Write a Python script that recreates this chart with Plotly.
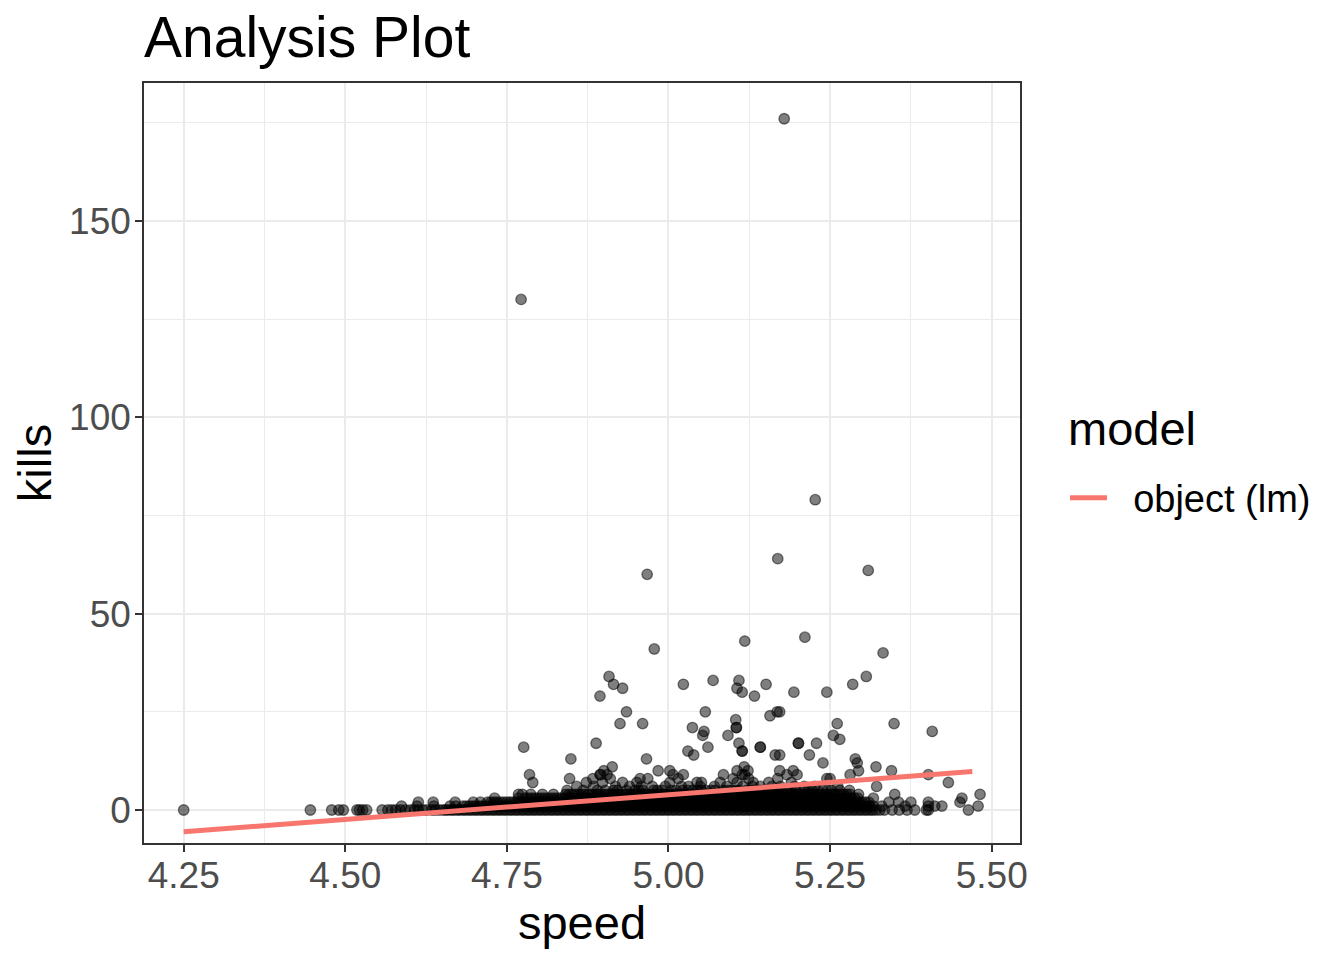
import plotly.graph_objects as go

# ---- data (speed values grouped by kills level) ----
speed_k0 = [4.250, 4.446, 4.479, 4.490, 4.497, 4.518, 4.522, 4.527, 4.533, 4.557, 4.566, 4.572,
            4.578, 4.585, 4.593, 4.601, 4.607, 4.613, 4.620, 4.626, 4.634, 4.639, 4.645, 4.651,
            4.655, 4.659, 4.664, 4.668, 4.673, 4.677, 4.682, 4.686, 4.691, 4.695, 4.700, 4.704,
            4.709, 4.713, 4.718, 4.722, 4.727, 4.731, 4.736, 4.740, 4.745, 4.749, 4.754, 4.758,
            4.763, 4.767, 4.772, 4.776, 4.781, 4.785, 4.790, 4.794, 4.799, 4.803, 4.808, 4.812,
            4.817, 4.821, 4.826, 4.830, 4.835, 4.839, 4.844, 4.848, 4.853, 4.857, 4.862, 4.866,
            4.871, 4.875, 4.880, 4.884, 4.889, 4.893, 4.898, 4.902, 4.907, 4.911, 4.916, 4.920,
            4.925, 4.929, 4.934, 4.938, 4.943, 4.947, 4.952, 4.956, 4.961, 4.965, 4.970, 4.974,
            4.979, 4.983, 4.988, 4.992, 4.997, 5.001, 5.006, 5.010, 5.015, 5.019, 5.024, 5.028,
            5.033, 5.037, 5.042, 5.046, 5.051, 5.055, 5.060, 5.064, 5.069, 5.073, 5.078, 5.082,
            5.087, 5.091, 5.096, 5.100, 5.105, 5.109, 5.114, 5.118, 5.123, 5.127, 5.132, 5.136,
            5.141, 5.145, 5.150, 5.154, 5.159, 5.163, 5.168, 5.172, 5.177, 5.181, 5.186, 5.190,
            5.195, 5.199, 5.204, 5.208, 5.213, 5.217, 5.222, 5.226, 5.231, 5.235, 5.240, 5.244,
            5.249, 5.253, 5.258, 5.262, 5.267, 5.271, 5.276, 5.280, 5.285, 5.289, 5.294, 5.298,
            5.303, 5.307, 5.312, 5.316, 5.321, 5.327, 5.334, 5.346, 5.357, 5.369, 5.381, 5.399,
            5.402, 5.464]
speed_k1 = [4.587, 4.611, 4.637, 4.662, 4.671,
            4.682, 4.687, 4.692, 4.697, 4.702, 4.707, 4.712, 4.717, 4.722, 4.727, 4.732, 4.737,
            4.742, 4.747, 4.752, 4.757, 4.762, 4.767, 4.772, 4.777, 4.782, 4.787, 4.792, 4.797,
            4.802, 4.807, 4.812, 4.817, 4.822, 4.827, 4.832, 4.837, 4.842, 4.847, 4.852, 4.857,
            4.862, 4.867, 4.872, 4.877, 4.882, 4.887, 4.892, 4.897, 4.902, 4.907, 4.912, 4.917,
            4.922, 4.927, 4.932, 4.937, 4.942, 4.947, 4.952, 4.957, 4.962, 4.967, 4.972, 4.977,
            4.982, 4.987, 4.992, 4.997, 5.002, 5.007, 5.012, 5.017, 5.022, 5.027, 5.032, 5.037,
            5.042, 5.047, 5.052, 5.057, 5.062, 5.067, 5.072, 5.077, 5.082, 5.087, 5.092, 5.097,
            5.102, 5.107, 5.112, 5.117, 5.122, 5.127, 5.132, 5.137, 5.142, 5.147, 5.152, 5.157,
            5.162, 5.167, 5.172, 5.177, 5.182, 5.187, 5.192, 5.197, 5.202, 5.207, 5.212, 5.217,
            5.222, 5.227, 5.232, 5.237, 5.242, 5.247, 5.252, 5.257, 5.262, 5.267, 5.272, 5.277,
            5.282, 5.287, 5.292, 5.297, 5.302, 5.307, 5.312, 5.317,
            5.330, 5.366, 5.402, 5.412, 5.423, 5.479]
speed_k2 = [4.613, 4.636, 4.670, 4.698, 4.709,
            4.720, 4.725, 4.730, 4.735, 4.740, 4.745, 4.750, 4.755, 4.760, 4.765, 4.770, 4.775,
            4.780, 4.785, 4.790, 4.795, 4.800, 4.805, 4.810, 4.815, 4.820, 4.825, 4.830, 4.835,
            4.840, 4.845, 4.850, 4.855, 4.860, 4.865, 4.870, 4.875, 4.880, 4.885, 4.890, 4.895,
            4.900, 4.905, 4.910, 4.915, 4.920, 4.925, 4.930, 4.935, 4.940, 4.945, 4.950, 4.955,
            4.960, 4.965, 4.970, 4.975, 4.980, 4.985, 4.990, 4.995, 5.000, 5.005, 5.010, 5.015,
            5.020, 5.025, 5.030, 5.035, 5.040, 5.045, 5.050, 5.055, 5.060, 5.065, 5.070, 5.075,
            5.080, 5.085, 5.090, 5.095, 5.100, 5.105, 5.110, 5.115, 5.120, 5.125, 5.130, 5.135,
            5.140, 5.145, 5.150, 5.155, 5.160, 5.165, 5.170, 5.175, 5.180, 5.185, 5.190, 5.195,
            5.200, 5.205, 5.210, 5.215, 5.220, 5.225, 5.230, 5.235, 5.240, 5.245, 5.250, 5.255,
            5.260, 5.265, 5.270, 5.275, 5.280, 5.285, 5.290, 5.295, 5.300, 5.305, 5.310,
            5.341, 5.356, 5.375, 5.402, 5.451]
speed_k3 = [4.731, 4.768,
            4.778, 4.783, 4.788, 4.793, 4.798, 4.803, 4.808, 4.813, 4.818, 4.823, 4.828, 4.833,
            4.838, 4.843, 4.848, 4.853, 4.858, 4.863, 4.868, 4.873, 4.878, 4.883, 4.888, 4.893,
            4.898, 4.903, 4.908, 4.913, 4.918, 4.923, 4.928, 4.933, 4.938, 4.943, 4.948, 4.953,
            4.958, 4.963, 4.968, 4.973, 4.978, 4.983, 4.988, 4.993, 4.998, 5.003, 5.008, 5.013,
            5.018, 5.023, 5.028, 5.033, 5.038, 5.043, 5.048, 5.053, 5.058, 5.063, 5.068, 5.073,
            5.078, 5.083, 5.088, 5.093, 5.098, 5.103, 5.108, 5.113, 5.118, 5.123, 5.128, 5.133,
            5.138, 5.143, 5.148, 5.153, 5.158, 5.163, 5.168, 5.173, 5.178, 5.183, 5.188, 5.193,
            5.198, 5.203, 5.208, 5.213, 5.218, 5.223, 5.228, 5.233, 5.238, 5.243, 5.248, 5.253,
            5.258, 5.263, 5.268, 5.273, 5.278, 5.283, 5.288, 5.293, 5.317, 5.454]
speed_k4 = [4.768, 4.774, 4.787, 4.805, 4.822,
            4.841, 4.846, 4.851, 4.856, 4.861, 4.866, 4.871, 4.876, 4.881, 4.886, 4.891, 4.896,
            4.901, 4.906, 4.911, 4.916, 4.921, 4.926, 4.931, 4.936, 4.941, 4.946, 4.951, 4.956,
            4.961, 4.966, 4.971, 4.976, 4.981, 4.986, 4.991, 4.996, 5.001, 5.006, 5.011, 5.016,
            5.021, 5.026, 5.031, 5.036, 5.041, 5.046, 5.051, 5.056, 5.061, 5.066, 5.071, 5.076,
            5.081, 5.086, 5.091, 5.096, 5.101, 5.106, 5.111, 5.116, 5.121, 5.126, 5.131, 5.136,
            5.141, 5.146, 5.151, 5.156, 5.161, 5.166, 5.171, 5.176, 5.181, 5.186, 5.191, 5.196,
            5.201, 5.206, 5.211, 5.216, 5.221, 5.226, 5.231, 5.236, 5.241, 5.246, 5.251, 5.256,
            5.261, 5.266, 5.271, 5.276, 5.281, 5.294, 5.350, 5.482]
speed_k5 = [4.843, 4.868, 4.890, 4.902, 4.915, 4.921, 4.935, 4.948, 4.960, 4.977, 4.990, 5.012,
            5.022, 5.030, 5.045, 5.058, 5.072, 5.085, 5.098, 5.110, 5.121, 5.133, 5.140, 5.152,
            5.162, 5.175, 5.185, 5.197, 5.210, 5.222, 5.239, 5.252, 5.265, 5.280,
            4.954, 4.983, 5.004, 5.038, 5.051, 5.066, 5.092, 5.104, 5.127, 5.146, 5.168, 5.191,
            5.216, 5.231, 5.246]
speed_k6 = [4.858, 4.884, 4.918, 4.940, 4.958, 4.975, 4.995, 5.020, 5.031, 5.049, 5.071, 5.090,
            5.115, 5.130, 5.142, 5.160, 5.173, 5.195, 5.210, 5.226, 5.262, 5.322]
speed_k7 = [4.790, 4.873, 4.898, 4.929, 4.951, 5.002, 5.044, 5.051, 5.080, 5.106, 5.131, 5.155,
            5.190, 5.433]
speed_k8 = [4.847, 4.883, 4.910, 4.956, 4.968, 5.015, 5.100, 5.124, 5.169, 5.245, 5.250]
speed_k9 = [4.785, 4.894, 4.895, 4.905, 5.007, 5.023, 5.085, 5.114, 5.118, 5.183, 5.199, 5.281,
            5.402]
speed_k10 = [4.900, 4.984, 5.002, 5.106, 5.123, 5.172, 5.193, 5.294, 5.345]

# scattered higher values (speed, kills pairs)
high_speed = [5.117, 5.321, 4.913, 5.239, 5.292, 4.849, 4.966, 5.289, 5.039, 5.165, 5.218, 5.172,
              5.030, 5.114, 5.114, 4.776, 5.061, 5.142, 5.142, 4.888, 5.109, 5.201, 5.201, 5.229,
              5.265, 5.053, 5.092, 5.255, 5.055, 5.408, 5.037, 5.105, 5.105, 4.925, 4.960, 5.261,
              5.349, 5.104, 5.157, 4.935, 5.057, 5.168, 5.172, 4.894, 5.133, 5.114, 5.194, 5.245,
              4.929, 5.106, 4.915, 5.023, 5.151, 5.285, 5.069, 5.109, 4.908, 5.306, 5.332, 4.978,
              5.118, 5.211, 4.967, 5.309, 5.169, 5.227, 4.772, 5.179]
high_kills = [11, 11, 11, 12, 12, 13, 13, 13, 14, 14, 14, 14,
              15, 15, 15, 16, 16, 16, 16, 17, 17, 17, 17, 17,
              18, 19, 19, 19, 20, 20, 21, 21, 21, 22, 22, 22,
              22, 23, 24, 25, 25, 25, 25, 29, 29, 30, 30, 30,
              31, 31, 32, 32, 32, 32, 33, 33, 34, 34, 40, 41,
              43, 44, 60, 61, 64, 79, 130, 176]

# fitted linear model (object (lm)) end points
fit_speed = [4.25, 5.47]
fit_kills = [-5.55, 9.8]

x_ticks = [4.25, 4.50, 4.75, 5.00, 5.25, 5.50]
x_tick_labels = ["4.25", "4.50", "4.75", "5.00", "5.25", "5.50"]
x_minor = [4.375, 4.625, 4.875, 5.125, 5.375]
y_ticks = [0, 50, 100, 150]
y_tick_labels = ["0", "50", "100", "150"]
y_minor = [25, 75, 125, 175]

# ---- assemble ----
levels = [speed_k0, speed_k1, speed_k2, speed_k3, speed_k4, speed_k5,
          speed_k6, speed_k7, speed_k8, speed_k9, speed_k10]
speed_all, kills_all = [], []
for k, xs in enumerate(levels):
    speed_all += xs
    kills_all += [k] * len(xs)
speed_all += high_speed
kills_all += high_kills

FONT = "Liberation Sans, Arial, Helvetica, sans-serif"
GRID = "#EBEBEB"
DARK = "#333333"

fig = go.Figure()
fig.add_trace(go.Scatter(
    x=speed_all, y=kills_all, mode="markers", showlegend=False,
    marker=dict(size=10.5, color="rgba(0,0,0,0.5)",
                line=dict(width=1.3, color="rgba(0,0,0,0.5)")),
    hoverinfo="skip"))
fig.add_trace(go.Scatter(
    x=fit_speed, y=fit_kills, mode="lines", name="\u00a0\u00a0object (lm)",
    line=dict(color="#F8766D", width=5)))

axis_common = dict(
    showgrid=True, gridcolor=GRID, gridwidth=2.4,
    zeroline=False, showline=True, mirror=True, linecolor=DARK, linewidth=1.5,
    ticks="outside", ticklen=7, tickwidth=1.5, tickcolor=DARK,
    tickfont=dict(family=FONT, size=37, color="#4D4D4D"),
)

fig.update_layout(
    width=1336, height=952,
    paper_bgcolor="white", plot_bgcolor="white",
    margin=dict(l=136, r=324, t=75, b=117),
    font=dict(family=FONT, color="black"),
    title=dict(text="Analysis Plot", font=dict(family=FONT, size=57, color="black"),
               x=0, xref="paper", xanchor="left", y=0.9905, yref="container", yanchor="top"),
    xaxis=dict(range=[4.1886, 5.5438], tickmode="array", tickvals=x_ticks, ticktext=x_tick_labels,
               minor=dict(tickvals=x_minor, showgrid=True, gridcolor=GRID, gridwidth=1.2, ticks=""),
               ticklabelstandoff=-8,
               title=dict(text="speed", font=dict(family=FONT, size=47, color="black"), standoff=10),
               **axis_common),
    yaxis=dict(range=[-8.4, 185.1], tickmode="array", tickvals=y_ticks, ticktext=y_tick_labels,
               minor=dict(tickvals=y_minor, showgrid=True, gridcolor=GRID, gridwidth=1.2, ticks=""),
               ticklabelstandoff=-3,
               title=dict(text="kills", font=dict(family=FONT, size=47, color="black"), standoff=12),
               **axis_common),
    legend=dict(font=dict(family=FONT, size=38, color="black"),
                x=1.0514, xanchor="left", y=0.454, yanchor="middle",
                bgcolor="rgba(0,0,0,0)", itemwidth=37),
    annotations=[dict(text="model", x=1.0525, xref="paper", xanchor="left",
                      y=0.545, yref="paper", yanchor="middle", showarrow=False,
                      font=dict(family=FONT, size=47, color="black"))],
)

fig.write_html("out.html")
